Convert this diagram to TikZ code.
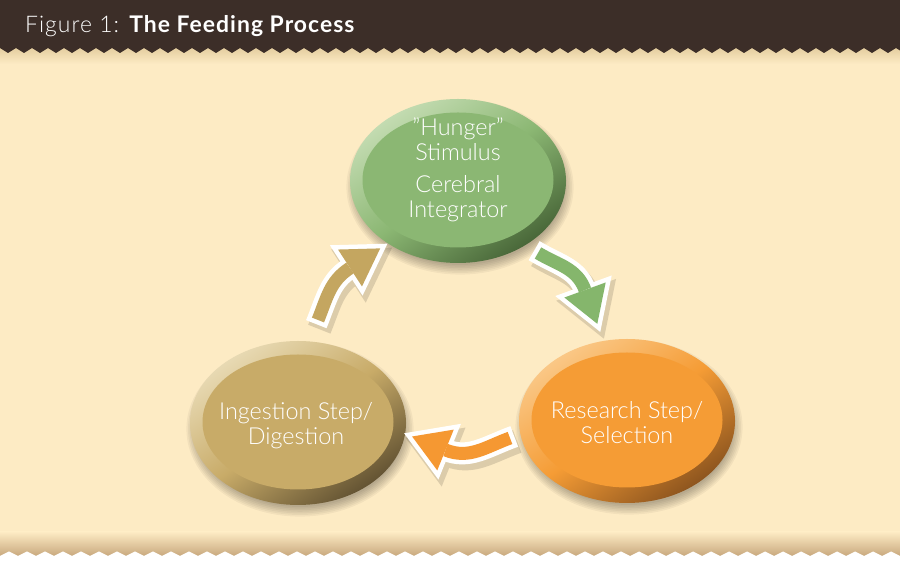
\documentclass[tikz,border=0pt]{standalone}
\usepackage{fontspec}
\setmainfont{Lato}
\newfontfamily\lightfont{Lato Light}
\usetikzlibrary{shapes.geometric}

\definecolor{cream}{RGB}{253,235,196}
\definecolor{header}{RGB}{60,46,40}
\definecolor{topshade}{RGB}{228,206,160}
\definecolor{edgeshade}{RGB}{200,168,125}
\definecolor{greenface}{RGB}{139,183,115}
\definecolor{greenlight}{RGB}{196,220,178}
\definecolor{greendark}{RGB}{72,102,56}
\definecolor{orangeface}{RGB}{245,156,53}
\definecolor{orangelight}{RGB}{250,200,135}
\definecolor{orangedark}{RGB}{140,84,30}
\definecolor{tanface}{RGB}{200,171,104}
\definecolor{tanlight}{RGB}{232,218,180}
\definecolor{tandark}{RGB}{98,82,50}
\definecolor{greenarrow}{RGB}{133,182,108}
\definecolor{orangearrow}{RGB}{245,152,50}
\definecolor{tanarrow}{RGB}{196,166,96}

% curved arrow: colour, tail, out, in, head base, head angle
\newcommand\feedarrow[6]{%
  \begin{scope}[transparency group, opacity=.13, transform canvas={shift={(3bp,-5bp)}}]
    \draw[black, line width=24bp, shorten <=-4.5bp] (#2) to[out=#3,in=#4] (#5);
    \filldraw[black, line width=11bp, line join=miter]
      ([shift={(#6:36bp)}]#5) -- ([shift={(#6+90:22bp)}]#5) -- ([shift={(#6-90:22bp)}]#5) -- cycle;
  \end{scope}
  \draw[white, line width=22bp, shorten <=-4.5bp] (#2) to[out=#3,in=#4] (#5);
  \filldraw[white, line width=9bp, line join=miter]
    ([shift={(#6:36bp)}]#5) -- ([shift={(#6+90:22bp)}]#5) -- ([shift={(#6-90:22bp)}]#5) -- cycle;
  \draw[#1, line width=13bp] (#2) to[out=#3,in=#4] (#5);
  \fill[#1] ([shift={(#6:36bp)}]#5) -- ([shift={(#6+90:22bp)}]#5) -- ([shift={(#6-90:22bp)}]#5) -- cycle;
}

\begin{document}
\begin{tikzpicture}[x=1bp,y=1bp]

%
% Styles
%
\tikzset{
  stage/.style={ellipse, minimum width=216bp, minimum height=164bp, inner sep=0pt,
    top color=#1light, bottom color=#1dark, middle color=#1face, shading angle=35,
    path picture={\fill[#1face] ([yshift=1bp]path picture bounding box.center)
      ellipse [x radius=95.5bp, y radius=67.5bp];}},
  stagetext/.style={text=white, align=center, font=\lightfont\fontsize{23.5}{25}\selectfont},
}

\useasboundingbox (0,0) rectangle (900,576);

% background and zigzag edges
\fill[cream] (0,0) rectangle (900,576);
\shade[top color=topshade, bottom color=cream] (0,512) rectangle (900,528);
\fill[header] (0,576) -- (0,528) \foreach \i in {0,...,56} { -- ({\i*16+8},523) -- ({\i*16+16},528) } -- (900,576) -- cycle;
\shade[top color=cream, bottom color=edgeshade] (0,20) rectangle (900,44);
\fill[white] (0,0) -- (0,20) \foreach \i in {0,...,50} { -- ({\i*18+9},24.5) -- ({\i*18+18},20) } -- (900,0) -- cycle;

\node[anchor=base west, text=white, font=\fontsize{23}{26}\selectfont\addfontfeatures{LetterSpace=4.5}, inner sep=0pt] (title) at (25,543)
  {{\lightfont\addfontfeatures{LetterSpace=4.5}Figure 1:} \textbf{The Feeding Process}};

% stage places and their soft shadows
\coordinate (hungerpos) at (458,395);
\coordinate (researchpos) at (627,155);
\coordinate (ingestpos) at (298,153);
\foreach \p in {hungerpos,researchpos,ingestpos}
  \foreach \k in {0,...,6}
    \fill[black, opacity=.045] ([shift={(2,-6)}]\p) ellipse [x radius={104+1.6*\k}, y radius={78+1.6*\k}];

% stages
\node[stage=green] (hunger) at (hungerpos) {};
\node[stage=orange] (research) at (researchpos) {};
\node[stage=tan] (ingest) at (ingestpos) {};

\node[stagetext] (hungertext) at ([yshift=11]hunger.center) {”Hunger”\\Stimulus\\[7bp]Cerebral\\Integrator};
\node[stagetext] (researchtext) at ([yshift=-2]research.center) {Research Step/\\Selection};
\node[stagetext] (ingesttext) at ([xshift=-2,yshift=-2.5]ingest.center) {Ingestion Step/\\Digestion};

% arrows
\coordinate (gtail) at (538,323);
\coordinate (gbase) at (585,286);
\coordinate (otail) at (510,138);
\coordinate (obase) at (445.5,126);
\coordinate (ttail) at (318,256);
\coordinate (tbase) at (350,308);

\feedarrow{greenarrow}{gtail}{-31}{110}{gbase}{-70}
\feedarrow{orangearrow}{otail}{200}{338}{obase}{158}
\feedarrow{tanarrow}{ttail}{68}{213}{tbase}{33}

\end{tikzpicture}
\end{document}
